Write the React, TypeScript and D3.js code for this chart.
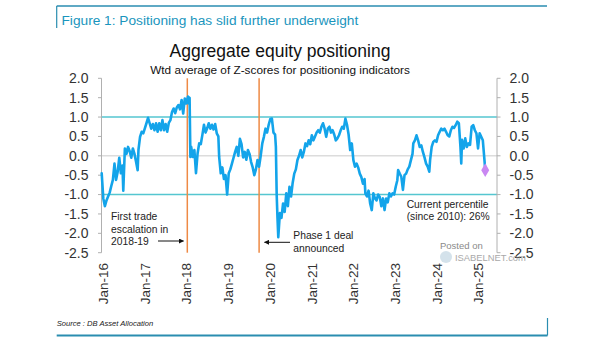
import React from 'react';
import * as d3 from 'd3';

const dates: string[] = [
  '2015-12-18','2016-01-01','2016-01-15','2016-01-29','2016-02-12','2016-02-26','2016-03-11','2016-03-25','2016-04-08','2016-04-22',
  '2016-05-06','2016-05-20','2016-06-03','2016-06-17','2016-06-24','2016-07-08','2016-07-22','2016-08-05','2016-08-19','2016-09-02',
  '2016-09-16','2016-09-30','2016-10-14','2016-10-28','2016-11-04','2016-11-18','2016-12-02','2016-12-16','2016-12-30','2017-01-13',
  '2017-01-27','2017-02-10','2017-02-24','2017-03-10','2017-03-24','2017-04-07','2017-04-21','2017-05-05','2017-05-19','2017-06-02',
  '2017-06-16','2017-06-30','2017-07-14','2017-07-28','2017-08-11','2017-08-25','2017-09-08','2017-09-22','2017-10-06','2017-10-20',
  '2017-11-03','2017-11-17','2017-12-01','2017-12-15','2017-12-29','2018-01-12','2018-01-19','2018-01-26','2018-02-02','2018-02-09',
  '2018-02-23','2018-03-09','2018-03-23','2018-04-06','2018-04-20','2018-05-04','2018-05-18','2018-06-01','2018-06-15','2018-06-29',
  '2018-07-13','2018-07-27','2018-08-10','2018-08-24','2018-09-07','2018-09-21','2018-10-05','2018-10-12','2018-10-26','2018-11-09',
  '2018-11-23','2018-12-07','2018-12-21','2019-01-04','2019-01-18','2019-02-01','2019-02-15','2019-03-01','2019-03-15','2019-03-29',
  '2019-04-12','2019-04-26','2019-05-10','2019-05-24','2019-06-07','2019-06-21','2019-07-05','2019-07-19','2019-08-02','2019-08-16',
  '2019-08-30','2019-09-13','2019-09-27','2019-10-11','2019-10-25','2019-11-08','2019-11-22','2019-12-06','2019-12-20','2020-01-03',
  '2020-01-17','2020-01-31','2020-02-14','2020-02-21','2020-02-28','2020-03-06','2020-03-13','2020-03-27','2020-04-10','2020-04-24',
  '2020-05-08','2020-05-22','2020-06-05','2020-06-19','2020-07-03','2020-07-17','2020-07-31','2020-08-14','2020-08-28','2020-09-11',
  '2020-09-25','2020-10-09','2020-10-23','2020-11-06','2020-11-20','2020-12-04','2020-12-18','2021-01-01','2021-01-15','2021-01-29',
  '2021-02-12','2021-02-26','2021-03-12','2021-03-26','2021-04-09','2021-04-23','2021-05-07','2021-05-21','2021-06-04','2021-06-18',
  '2021-07-02','2021-07-16','2021-07-30','2021-08-13','2021-08-27','2021-09-10','2021-09-24','2021-10-08','2021-10-22','2021-11-05',
  '2021-11-19','2021-12-03','2021-12-17','2021-12-31','2022-01-14','2022-01-28','2022-02-11','2022-02-25','2022-03-11','2022-03-25',
  '2022-04-08','2022-04-15','2022-04-29','2022-05-13','2022-05-27','2022-06-10','2022-06-24','2022-07-08','2022-07-22','2022-08-05',
  '2022-08-19','2022-09-02','2022-09-16','2022-09-30','2022-10-14','2022-10-28','2022-11-11','2022-11-25','2022-12-09','2022-12-23',
  '2023-01-06','2023-01-20','2023-01-27','2023-02-10','2023-02-24','2023-03-10','2023-03-24','2023-04-07','2023-04-21','2023-05-05',
  '2023-05-19','2023-06-02','2023-06-09','2023-06-23','2023-07-07','2023-07-21','2023-08-04','2023-08-18','2023-09-01','2023-09-15',
  '2023-09-29','2023-10-13','2023-10-27','2023-11-03','2023-11-17','2023-12-01','2023-12-15','2023-12-29','2024-01-12','2024-01-26',
  '2024-02-09','2024-02-23','2024-03-08','2024-03-22','2024-04-05','2024-04-19','2024-05-03','2024-05-17','2024-05-31','2024-06-14',
  '2024-06-28','2024-07-12','2024-07-26','2024-08-02','2024-08-09','2024-08-23','2024-09-06','2024-09-20','2024-10-04','2024-10-18',
  '2024-11-01','2024-11-15','2024-11-29','2024-12-13','2024-12-27','2025-01-10','2025-01-24','2025-02-07','2025-02-21','2025-02-28',
];

const values: number[] = [
  -0.45,-1.1,-1.3,-1.15,-1.05,-0.95,-0.78,-0.62,-0.2,-0.62,
  -0.41,-0.05,-0.45,-0.25,-0.9,0.19,0.05,0.23,0.12,-0.05,
  0.19,0.05,-0.15,-0.37,0.15,0.49,0.62,0.58,0.71,0.84,
  0.98,0.84,0.7,0.82,0.66,0.84,0.62,0.84,0.66,0.92,
  0.66,0.82,0.62,0.85,0.92,1.13,1.22,1.1,1.25,1.31,
  1.2,1.44,1.09,1.48,1.35,1.53,1.35,1.5,-0.03,0.23,
  -0.03,0.15,-0.45,0.06,0.32,0.3,0.54,0.8,0.6,0.71,
  0.84,0.7,0.8,0.68,0.82,0.58,0.5,-0.03,-0.45,-0.3,
  -0.6,-0.5,-1.0,-0.45,-0.35,-0.2,-0.05,0.1,0.23,0.0,
  0.44,0.3,-0.04,0.1,-0.1,0.15,0.05,-0.16,-0.3,-0.5,
  -0.35,-0.11,-0.28,0.0,0.32,0.49,0.7,0.6,0.8,0.95,
  0.96,0.6,0.55,0.23,-1.0,-1.6,-2.1,-1.48,-1.6,-1.23,
  -1.45,-0.97,-1.3,-0.8,-1.05,-0.7,-0.46,-0.35,-0.11,0.0,
  0.15,-0.04,0.1,0.32,0.25,0.4,0.3,0.53,0.4,0.5,
  0.6,0.66,0.6,0.75,0.84,0.7,0.49,0.7,0.75,0.6,
  0.66,0.55,0.4,0.45,0.53,0.65,0.75,0.7,0.96,0.8,
  0.55,0.15,0.32,-0.11,-0.28,-0.2,-0.3,-0.46,-0.55,-0.72,
  -0.6,-0.97,-1.05,-0.9,-1.23,-1.4,-0.97,-1.1,-1.15,-1.0,
  -1.06,-1.3,-1.1,-1.4,-1.1,-1.2,-0.97,-1.05,-0.97,-1.0,
  -0.8,-0.63,-0.37,-0.46,-0.54,-0.88,-0.5,-0.46,-0.35,-0.28,
  -0.11,0.05,0.32,0.4,0.53,0.4,0.23,0.27,0.1,-0.04,
  -0.2,-0.28,-0.41,-0.11,0.23,0.36,0.4,0.36,0.53,0.62,
  0.7,0.66,0.7,0.62,0.53,0.5,0.66,0.75,0.72,0.79,
  0.88,0.84,0.23,-0.2,0.41,0.19,0.45,0.23,0.32,0.28,
  0.75,0.79,0.66,0.58,0.19,0.58,0.49,0.4,-0.1,-0.37,
];

const yTicks: number[] = [2.0, 1.5, 1.0, 0.5, 0.0, -0.5, -1.0, -1.5, -2.0, -2.5];
const xTickLabels: string[] = ['Jan-16','Jan-17','Jan-18','Jan-19','Jan-20','Jan-21','Jan-22','Jan-23','Jan-24','Jan-25'];
const xTickDates: string[] = ['2016-01-01','2017-01-01','2018-01-01','2019-01-01','2020-01-01','2021-01-01','2022-01-01','2023-01-01','2024-01-01','2025-01-01'];
const eventDates: string[] = ['2018-01-06', '2019-09-27'];
const bandLevels: number[] = [1, -1];

const FONT = "'Liberation Sans', Arial, Helvetica, sans-serif";

export default function App() {
  const parse = d3.timeParse('%Y-%m-%d');
  const data = dates.map((d, i) => ({ date: parse(d) as Date, v: values[i] }));
  const x = d3.scaleTime()
    .domain([parse('2016-01-01') as Date, parse('2025-01-01') as Date])
    .range([103.3, 478.6]);
  const y = d3.scaleLinear().domain([-2.5, 2]).range([252.7, 78.3]);
  const left = 101.5;
  const right = 497;
  const line = d3.line<{ date: Date; v: number }>()
    .x(d => x(d.date))
    .y(d => y(d.v));
  const last = data[data.length - 1];
  const diamond = d3.symbol().type(d3.symbolDiamond).size(55)();
  const border = '#2a8db0';
  const textCol = '#333';

  return (
    <svg width={605} height={341} style={{ position: 'absolute', left: 0, top: 0, background: '#fff' }}
      fontFamily={FONT}>
      <rect x={0} y={0} width={605} height={341} fill="#fff" />
      {/* frame */}
      <line x1={56.7} x2={547} y1={6} y2={6} stroke={border} strokeWidth={1.5} />
      <line x1={56.7} x2={56.7} y1={6} y2={28} stroke={border} strokeWidth={1.2} />
      <line x1={56.7} x2={547.5} y1={335.5} y2={335.5} stroke={border} strokeWidth={2} />
      <line x1={547.5} x2={547.5} y1={318} y2={335.5} stroke={border} strokeWidth={1.2} />
      <text x={61.5} y={25} fontSize={13.7} fill="#1a95bd">Figure 1: Positioning has slid further underweight</text>
      <text x={56.7} y={326} fontSize={7.6} fontStyle="italic" fill="#222">Source : DB Asset Allocation</text>

      {/* titles */}
      <text x={280} y={57} fontSize={17.5} textAnchor="middle" fill="#111">Aggregate equity positioning</text>
      <text x={280} y={74} fontSize={11.8} textAnchor="middle" fill="#111">Wtd average of Z-scores for positioning indicators</text>

      {/* zero line */}
      <line x1={left} x2={right} y1={y(0)} y2={y(0)} stroke="#dcdcdc" strokeWidth={1.5} />
      {/* +-1 bands */}
      {bandLevels.map(b => (
        <line key={b} x1={left} x2={right} y1={y(b)} y2={y(b)} stroke="#55c6d0" strokeWidth={1.5} />
      ))}

      {/* axes */}
      <line x1={left} x2={left} y1={y(2)} y2={y(-2.5)} stroke="#b0b0b0" strokeWidth={1} />
      <line x1={right} x2={right} y1={y(2)} y2={y(-2.5)} stroke="#b0b0b0" strokeWidth={1} />
      {yTicks.map(t => (
        <g key={t}>
          <line x1={left - 3.5} x2={left} y1={y(t)} y2={y(t)} stroke="#b0b0b0" strokeWidth={1} />
          <line x1={right} x2={right + 3.5} y1={y(t)} y2={y(t)} stroke="#b0b0b0" strokeWidth={1} />
          <text x={88.5} y={y(t)} dy="0.35em" fontSize={14} textAnchor="end" fill={textCol}>{t.toFixed(1)}</text>
          <text x={509.5} y={y(t)} dy="0.35em" fontSize={14} textAnchor="start" fill={textCol}>{t.toFixed(1)}</text>
        </g>
      ))}
      {xTickDates.map((d, i) => {
        const px = x(parse(d) as Date);
        return (
          <text key={d} transform={`translate(${px},263) rotate(-90)`} dy="0.35em" fontSize={13.5}
            textAnchor="end" fill={textCol}>{xTickLabels[i]}</text>
        );
      })}

      {/* event lines */}
      {eventDates.map(d => {
        const px = x(parse(d) as Date);
        return <line key={d} x1={px} x2={px} y1={y(2)} y2={y(-2.5)} stroke="#ee8a45" strokeWidth={1.5} />;
      })}

      {/* series */}
      <path d={line(data) || ''} fill="none" stroke="#13a4ea" strokeWidth={2.6} strokeLinejoin="round" strokeLinecap="round" />
      <path d={diamond || ''} transform={`translate(${x(last.date)},${y(last.v)})`} fill="#c987f2" />

      {/* annotations */}
      <defs>
        <marker id="ah" viewBox="0 0 10 10" refX={9} refY={5} markerWidth={5} markerHeight={5} orient="auto-start-reverse">
          <path d="M0,0 L10,5 L0,10 z" fill="#111" />
        </marker>
      </defs>
      <g fontSize={10.3} fill="#222">
        <text x={111} y={220}>First trade</text>
        <text x={111} y={232.6}>escalation in</text>
        <text x={111} y={245.3}>2018-19</text>
        <text x={293.3} y={238.8}>Phase 1 deal</text>
        <text x={293.3} y={251.5}>announced</text>
        <text x={406.7} y={208}>Current percentile</text>
        <text x={406.7} y={219.5}>(since 2010): 26%</text>
      </g>
      <line x1={158} x2={183.5} y1={241} y2={241} stroke="#111" strokeWidth={1} markerEnd="url(#ah)" />
      <line x1={290} x2={264.5} y1={242.3} y2={242.3} stroke="#111" strokeWidth={1} markerEnd="url(#ah)" />

      {/* watermark */}
      <text x={440} y={249} fontSize={9.5} fill="#8a8a8a">Posted on</text>
      <circle cx={446} cy={257} r={6} fill="#c9dbe6" opacity={0.8} />
      <text x={455} y={261} fontSize={9.4} fill="#9a9a9a" opacity={0.85}>ISABELNET.com</text>
    </svg>
  );
}
